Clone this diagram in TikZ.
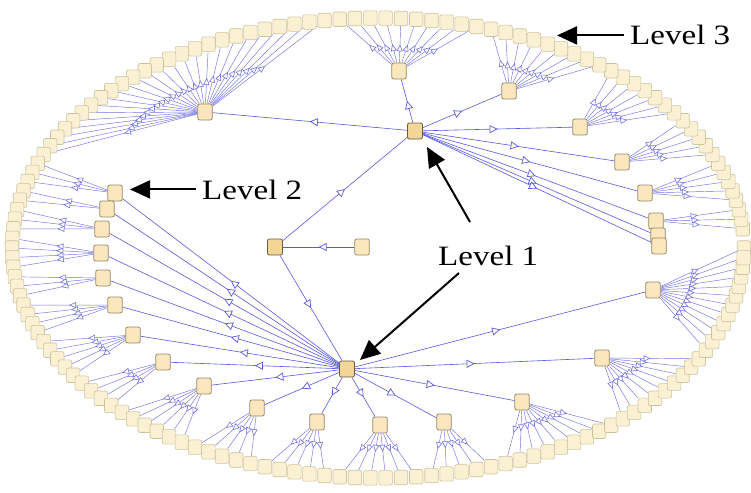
\documentclass[tikz,border=0pt]{standalone}
\usepackage{fontspec}
\setmainfont{Liberation Serif}
\usetikzlibrary{arrows.meta,decorations.markings}
\definecolor{edgeblue}{RGB}{88,88,222}
\definecolor{leaffill}{RGB}{250,240,210}
\definecolor{leafdraw}{RGB}{205,194,158}
\definecolor{midfill}{RGB}{250,231,190}
\definecolor{middraw}{RGB}{150,135,100}
\definecolor{hubfill}{RGB}{242,214,152}
\definecolor{hubdraw}{RGB}{105,92,60}
\pgfdeclarelayer{bg}
\pgfsetlayers{bg,main}
\tikzset{
  leaf/.style={draw=leafdraw, fill=leaffill, rounded corners=2pt, minimum width=13.5pt, minimum height=14.5pt, inner sep=0pt, line width=0.6pt},
  midbox/.style={leaf, draw=middraw, fill=midfill, minimum width=14.5pt, minimum height=16pt, line width=0.8pt},
  hubbox/.style={midbox, draw=hubdraw, fill=hubfill, minimum width=15pt, minimum height=16pt},
  link/.style={color=edgeblue, line width=0.6pt, postaction={decorate},
    decoration={markings, mark=at position 0.5 with {\arrow{Triangle[length=8pt,width=8pt,fill=white,line width=0.7pt]}}}},
  fan/.style={color=edgeblue!85, line width=0.45pt, postaction={decorate},
    decoration={markings, mark=at position 0.5 with {\arrow{Triangle[length=7pt,width=6pt,fill=white,line width=0.6pt]}}}},
  callout/.style={-{Triangle[length=20pt,width=18pt]}, line width=2pt, black},
  lbl/.style={font=\fontsize{28}{30}\selectfont, inner sep=0pt, anchor=base west}
}
\begin{document}
\begin{tikzpicture}[x=1pt,y=-1pt]
\useasboundingbox (0,0) rectangle (751,492);
% level 3 ring
\foreach \i in {0,2,3,...,149}{
  \node[leaf] (L\i) at ({378+366*cos(2.4*\i)},{248-230*sin(2.4*\i)}) {};
}
% level 2 nodes
\foreach \n/\x/\y in {a1/205/112, a2/399/71, a3/509/91, a4/580/127, a5/622/162, a6/645/193, a7/656/221, a8/658/236, a9/659/246,
  c1/115/193, c2/107/209, c3/102/229, c4/101/253, c5/103/278, c6/115/305, c7/133/335, c8/163/362, c9/204/386,
  c10/257/408, c11/317/422, c12/380/425, c13/444/422, c14/522/402, c15/602/358, c16/653/290}{
  \node[midbox] (\n) at (\x,\y) {};
}
% level 1 nodes
\node[hubbox] (A) at (415,131) {};
\node[hubbox] (B) at (275,247) {};
\node[hubbox] (C) at (347,369) {};
\node[midbox] (D) at (362,247) {};
% connectors
\begin{pgfonlayer}{bg}
\foreach \p/\a/\b in {a7/2/4, a6/5/9, a5/10/14, a4/15/21, a3/22/30, a2/31/40, a1/41/65,
  c1/66/68, c2/69/70, c3/71/73, c4/74/77, c5/78/80, c6/81/84, c7/85/89, c8/90/93, c9/94/99,
  c10/100/104, c11/105/109, c12/110/115, c13/116/120, c14/121/129, c15/130/138, c16/139/150}{
  \foreach \i in {\a,...,\b}{
    \pgfmathtruncatemacro{\j}{mod(\i,150)}
    \draw[fan] (\p) -- (L\j);
  }
}
\draw[link] (B) -- (A);
\draw[link] (B) -- (C);
\draw[link] (D) -- (B);
\foreach \c in {a1,a2,a3,a4,a5,a6,a7,a8,a9}{\draw[link] (A) -- (\c);}
\foreach \c in {c1,c2,c3,c4,c5,c6,c7,c8,c9,c10,c11,c12,c13,c14,c15,c16}{\draw[link] (C) -- (\c);}
\end{pgfonlayer}
% labels and callouts
\node[lbl] (lv3) at (630,45) {\scalebox{1.18}[1]{Level 3}};
\node[lbl] (lv2) at (202,199) {\scalebox{1.18}[1]{Level 2}};
\node[lbl] (lv1) at (438,265) {\scalebox{1.18}[1]{Level 1}};
\coordinate (t3) at (557,34);
\coordinate (t2) at (130,191);
\coordinate (s1a) at (470,222);
\coordinate (t1a) at (427,147);
\coordinate (s1b) at (459,273);
\coordinate (t1b) at (360,360);
\draw[callout] ([xshift=-6pt]lv3.west) -- (t3 |- lv3.west);
\draw[callout] ([xshift=-6pt]lv2.west) -- (t2 |- lv2.west);
\draw[callout] (s1a) -- (t1a);
\draw[callout] (s1b) -- (t1b);
\end{tikzpicture}
\end{document}
